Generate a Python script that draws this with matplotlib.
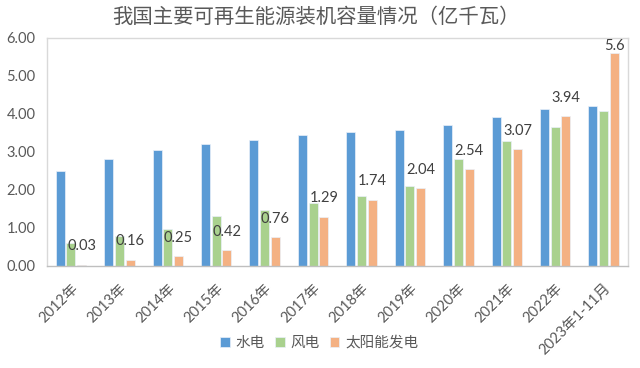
import matplotlib
matplotlib.use("Agg")
import matplotlib.pyplot as plt
import numpy as np

plt.rcParams['font.family'] = ['Lato', 'Noto Sans CJK SC', 'DejaVu Sans']

categories = ["2012年", "2013年", "2014年", "2015年", "2016年", "2017年",
              "2018年", "2019年", "2020年", "2021年", "2022年", "2023年1-11月"]
hydro = [2.49, 2.80, 3.05, 3.20, 3.32, 3.44, 3.52, 3.58, 3.70, 3.91, 4.14, 4.20]
wind = [0.61, 0.77, 0.96, 1.31, 1.48, 1.64, 1.84, 2.10, 2.82, 3.28, 3.65, 4.07]
solar = [0.03, 0.16, 0.25, 0.42, 0.76, 1.29, 1.74, 2.04, 2.54, 3.07, 3.94, 5.6]
solar_labels = ["0.03", "0.16", "0.25", "0.42", "0.76", "1.29", "1.74", "2.04",
                "2.54", "3.07", "3.94", "5.6"]
series_names = ["水电", "风电", "太阳能发电"]
colors = ["#5B9BD5", "#A9D18E", "#F4B183"]
title = "我国主要可再生能源装机容量情况（亿千瓦）"

fig = plt.figure(figsize=(6.4, 3.68), dpi=100)
ax = fig.add_axes([0.073, 0.278, 0.908, 0.619])

x = np.arange(len(categories))
w = 0.185
step = 0.222
for i, (vals, c, name) in enumerate(zip([hydro, wind, solar], colors, series_names)):
    ax.bar(x + (i - 1) * step, vals, width=w, color=c, edgecolor="#EAF1FA",
           linewidth=0.5, label=name, zorder=2)

for xi, v, lab in zip(x, solar, solar_labels):
    ty = min(v + 0.48, 5.79)
    ax.text(xi + step, ty, lab, ha="center", va="center", fontsize=10.5,
            color="#404040", zorder=3)

ax.set_xlim(-0.5, len(categories) - 0.5)
ax.set_ylim(0, 6)
ax.set_yticks(np.arange(0, 6.01, 1.0))
ax.set_yticklabels([f"{t:.2f}" for t in np.arange(0, 6.01, 1.0)],
                   fontsize=10.5, color="#595959")
ax.set_xticks(x)
ax.set_xticklabels(categories, rotation=45, ha="right", rotation_mode="anchor",
                   fontsize=10.5, color="#595959")
ax.tick_params(axis="both", length=0)
ax.tick_params(axis="x", pad=11)
ax.tick_params(axis="y", pad=8)
for s in ax.spines.values():
    s.set_color("#D9D9D9")
    s.set_linewidth(1.0)
ax.spines["bottom"].set_color("#BFBFBF")

fig.text(0.494, 0.952, title, ha="center", va="center", fontsize=14.7,
         color="#595959", family="Noto Sans CJK SC")

leg = fig.legend(loc="center", bbox_to_anchor=(0.499, 0.068), ncol=3, frameon=False,
                 handlelength=0.65, handleheight=0.65, handletextpad=0.4,
                 columnspacing=0.7, fontsize=10.5)
for t in leg.get_texts():
    t.set_color("#595959")

fig.savefig("out.png", dpi=100)
